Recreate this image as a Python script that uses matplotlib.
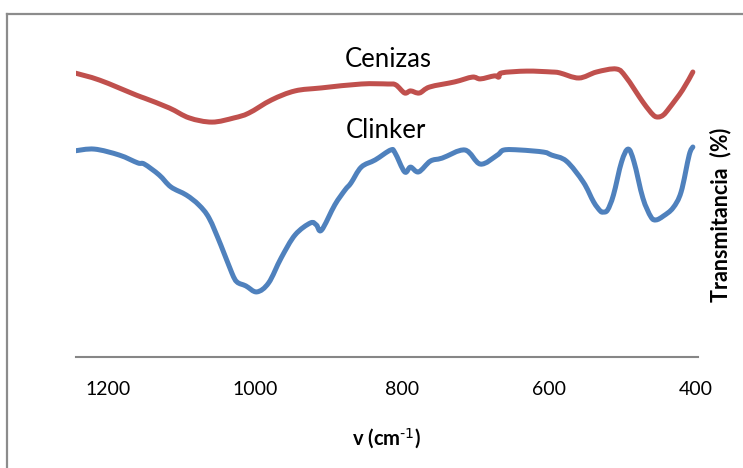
import numpy as np
import matplotlib.pyplot as plt
from matplotlib.lines import Line2D
from matplotlib.path import Path
from matplotlib.patches import PathPatch

# FTIR spectra, wavenumber (cm-1) vs transmittance (%)
cenizas_wn = [1245, 1211, 1161, 1150, 1116, 1089, 1058, 1028, 1008, 977, 945, 909,
              855, 819, 808, 796, 788, 776, 762, 728, 704, 693, 674, 668, 664, 630,
              596, 585, 559, 535, 508, 495, 472, 458, 451, 444, 436, 418, 404]
cenizas_t = [94.7, 92.3, 87.3, 86.3, 83.0, 79.7, 78.3, 79.7, 81.3, 85.7, 88.7, 89.7,
             91.0, 91.0, 90.7, 88.0, 88.7, 88.0, 90.0, 91.7, 93.3, 92.7, 93.7, 93.3,
             94.7, 95.3, 95.0, 94.7, 93.0, 95.0, 96.0, 93.3, 85.0, 80.7, 80.0, 80.7,
             83.0, 89.0, 95.0]

clinker_wn = [1245, 1218, 1184, 1159, 1150, 1130, 1114, 1093, 1076, 1062, 1046, 1031,
              1024, 1012, 997, 981, 964, 945, 924, 916, 909, 891, 877, 869, 855, 836,
              815, 809, 796, 788, 777, 761, 745, 714, 693, 670, 661, 639, 607, 596,
              576, 553, 539, 530, 526, 520, 512, 501, 492, 484, 472, 461, 454, 444,
              431, 420, 409, 404]
clinker_t = [68.7, 69.3, 67.3, 64.7, 64.3, 60.7, 56.7, 54.0, 50.7, 46.3, 37.3, 28.0,
             25.0, 23.7, 21.7, 24.7, 33.0, 40.7, 44.7, 44.0, 42.3, 50.7, 55.7, 58.0,
             63.3, 65.7, 69.0, 68.0, 61.7, 63.3, 61.7, 65.3, 66.3, 69.0, 64.3, 67.3,
             69.0, 69.0, 68.3, 67.3, 65.3, 58.3, 51.7, 48.7, 48.3, 49.0, 54.0, 65.0,
             69.3, 65.0, 53.0, 46.7, 45.7, 47.0, 49.7, 55.0, 67.3, 70.0]

ticks = [1200, 1000, 800, 600, 400]


def smooth_path(x, y):
    # Catmull-Rom curve through the points, written as cubic Bezier segments
    pts = np.column_stack([x, y]).astype(float)
    ext = np.vstack([pts[0], pts, pts[-1]])
    verts = [pts[0]]
    codes = [Path.MOVETO]
    for i in range(1, len(ext) - 2):
        p0, p1, p2, p3 = ext[i - 1], ext[i], ext[i + 1], ext[i + 2]
        verts += [p1 + (p2 - p0) / 6, p2 - (p3 - p1) / 6, p2]
        codes += [Path.CURVE4] * 3
    return Path(verts, codes)


plt.rcParams['font.family'] = ['Lato', 'DejaVu Sans']

fig = plt.figure(figsize=(7.43, 4.68), dpi=100)
ax = fig.add_axes([76 / 743, 111 / 468, 622 / 743, 315 / 468])

for wn, t, color in [(cenizas_wn, cenizas_t, '#C0504D'),
                     (clinker_wn, clinker_t, '#4F81BD')]:
    ax.add_patch(PathPatch(smooth_path(wn, t), facecolor='none', edgecolor=color,
                           linewidth=3.6, joinstyle='round', capstyle='round'))

ax.text(818, 99, 'Cenizas', fontsize=18.5, ha='center', va='center')
ax.text(822, 75.5, 'Clinker', fontsize=18.5, ha='center', va='center')

ax.set_xlim(1243, 397)
ax.set_ylim(0, 105)
ax.set_xticks(ticks)
ax.tick_params(axis='x', length=0, pad=17, labelsize=14)
ax.set_yticks([])
for side in ['top', 'right', 'left']:
    ax.spines[side].set_visible(False)
ax.spines['bottom'].set_color('#868686')
ax.spines['bottom'].set_linewidth(1.5)

ax.set_xlabel(r'v (cm$^{\text{-1}}$)', fontsize=14.5, fontweight='bold', labelpad=21)
fig.text(721 / 743, 1 - 215 / 468, 'Transmitancia  (%)', rotation=90,
         fontsize=15.5, fontweight='bold', ha='center', va='center')

# outer chart frame
fig.add_artist(Line2D([7 / 743, 7 / 743], [0, 1 - 14 / 468], color='#8C8C8C',
                      linewidth=1.6, transform=fig.transFigure))
fig.add_artist(Line2D([7 / 743, 1], [1 - 14 / 468, 1 - 14 / 468], color='#8C8C8C',
                      linewidth=1.6, transform=fig.transFigure))

fig.savefig('out.png', dpi=100)
